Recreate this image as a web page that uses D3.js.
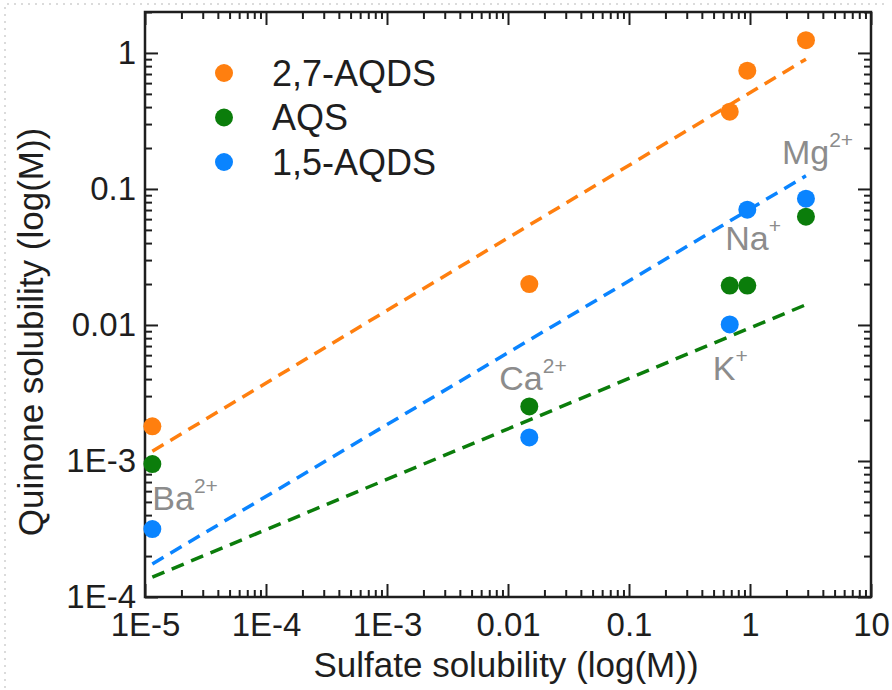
<!DOCTYPE html>
<html>
<head>
<meta charset="utf-8">
<script src="https://cdn.jsdelivr.net/npm/d3@7/dist/d3.min.js"></script>
<style>
  body { margin: 0; background: #fff; }
  svg { display: block; font-family: "Liberation Sans", Arial, sans-serif; }
  .tick text { fill: #1e1e1e; }
</style>
</head>
<body>
<div id="chart"></div>
<script>
// cation sulfates and their solubility (M)
const cations = ['Ba', 'Ca', 'K', 'Na', 'Mg'];
const charges = ['2+', '2+', '+', '+', '2+'];
const sulfateSol = [1.15e-5, 0.015, 0.68, 0.95, 2.9];

// quinone solubility (M) for each cation
const seriesNames = ['2,7-AQDS', 'AQS', '1,5-AQDS'];
const aqds27 = [1.8e-3, 0.02, 0.37, 0.74, 1.24];
const aqs = [9.5e-4, 2.52e-3, 0.0195, 0.0195, 0.0626];
const aqds15 = [3.16e-4, 1.49e-3, 0.0101, 0.0704, 0.0848];

// fitted trend lines (end points)
const fitX = [1.15e-5, 2.9];
const fit27 = [1.18e-3, 0.90];
const fitAqs = [1.40e-4, 0.0141];
const fit15 = [1.75e-4, 0.125];

const xTicks = [1e-5, 1e-4, 1e-3, 0.01, 0.1, 1, 10];
const xTickLabels = ['1E-5', '1E-4', '1E-3', '0.01', '0.1', '1', '10'];
const yTicks = [1e-4, 1e-3, 0.01, 0.1, 1];
const yTickLabels = ['1E-4', '1E-3', '0.01', '0.1', '1'];

const colors = ['#ff7f0f', '#0b7d0b', '#0a84ff'];
const labelColor = '#8c8c8c';

const W = 892, H = 690;
const margin = { top: 12, right: 21, bottom: 93, left: 145 },
      width = W - margin.left - margin.right,
      height = H - margin.top - margin.bottom;

const svg = d3.select('#chart').append('svg')
      .attr('width', W)
      .attr('height', H);

// faint dotted page border (left / top)
svg.append('path')
    .attr('d', 'M5,' + (H - 2) + 'V4H' + (W - 6))
    .attr('fill', 'none')
    .attr('stroke', '#cfcfcf')
    .attr('stroke-width', 1.5)
    .attr('stroke-dasharray', '2,5');

const g = svg.append('g')
    .attr('transform', 'translate(' + margin.left + ',' + margin.top + ')');

const x = d3.scaleLog().domain([1e-5, 10]).range([0, width]);
const y = d3.scaleLog().domain([1e-4, 2]).range([height, 0]);

function minors(lo, hi) {
  const out = [];
  for (let e = lo; e < hi; e++)
    for (let k = 2; k <= 9; k++) out.push(k * Math.pow(10, e));
  return out;
}
const xMinor = minors(-5, 1);
const yMinor = minors(-4, 0).concat([2]);

const fmtX = d => xTickLabels[xTicks.indexOf(d)];
const fmtY = d => yTickLabels[yTicks.indexOf(d)];

function styleAxis(sel) {
  sel.select('.domain').remove();
  sel.selectAll('line').attr('stroke', '#1e1e1e').attr('stroke-width', 2);
  sel.selectAll('text').style('font-size', '33px');
}

// bottom
g.append('g').attr('transform', 'translate(0,' + height + ')')
    .call(d3.axisBottom(x).tickValues(xMinor).tickSize(-7).tickFormat(''))
    .call(styleAxis);
g.append('g').attr('transform', 'translate(0,' + height + ')')
    .call(d3.axisBottom(x).tickValues(xTicks).tickSize(-13).tickPadding(16).tickFormat(fmtX))
    .call(styleAxis);
// top
g.append('g')
    .call(d3.axisTop(x).tickValues(xMinor).tickSize(-7).tickFormat(''))
    .call(styleAxis);
g.append('g')
    .call(d3.axisTop(x).tickValues(xTicks).tickSize(-13).tickFormat(''))
    .call(styleAxis);
// left
g.append('g')
    .call(d3.axisLeft(y).tickValues(yMinor).tickSize(-7).tickFormat(''))
    .call(styleAxis);
g.append('g')
    .call(d3.axisLeft(y).tickValues(yTicks).tickSize(-13).tickPadding(9).tickFormat(fmtY))
    .call(styleAxis);
// right
g.append('g').attr('transform', 'translate(' + width + ',0)')
    .call(d3.axisRight(y).tickValues(yMinor).tickSize(-7).tickFormat(''))
    .call(styleAxis);
g.append('g').attr('transform', 'translate(' + width + ',0)')
    .call(d3.axisRight(y).tickValues(yTicks).tickSize(-13).tickFormat(''))
    .call(styleAxis);

// frame
g.append('rect')
    .attr('width', width)
    .attr('height', height)
    .attr('fill', 'none')
    .attr('stroke', '#1e1e1e')
    .attr('stroke-width', 2.5);

// trend lines
const fits = [fit27, fitAqs, fit15];
const line = d3.line().x(d => x(d[0])).y(d => y(d[1]));
fits.forEach((f, i) => {
  g.append('path')
      .attr('d', line(fitX.map((v, j) => [v, f[j]])))
      .attr('fill', 'none')
      .attr('stroke', colors[i])
      .attr('stroke-width', 3.5)
      .attr('stroke-dasharray', '13,8');
});

// points (blue before green so green sits on top)
const series = [aqds27, aqs, aqds15];
[0, 2, 1].forEach(i => {
  g.append('g').selectAll('circle')
      .data(series[i])
    .enter().append('circle')
      .attr('cx', (d, j) => x(sulfateSol[j]))
      .attr('cy', d => y(d))
      .attr('r', 9)
      .attr('fill', colors[i]);
});

// cation labels
const labelOffsets = [[0, 510], [-30, 390], [-17, 380], [-22, 250], [-24, 164]];
cations.forEach((c, i) => {
  const t = svg.append('text')
      .attr('x', margin.left + x(sulfateSol[i]) + labelOffsets[i][0])
      .attr('y', labelOffsets[i][1])
      .attr('fill', labelColor)
      .style('font-size', '34px')
      .text(c);
  t.append('tspan')
      .attr('dy', -17)
      .style('font-size', '21px')
      .text(charges[i]);
});

// legend
const legend = svg.append('g').attr('transform', 'translate(224,73)');
seriesNames.forEach((n, i) => {
  const row = legend.append('g').attr('transform', 'translate(0,' + (i * 44.5) + ')');
  row.append('circle').attr('r', 9).attr('fill', colors[i]);
  row.append('text')
      .attr('x', 48)
      .attr('y', 12.5)
      .attr('fill', '#1e1e1e')
      .style('font-size', '36px')
      .text(n);
});

// axis titles
svg.append('text')
    .attr('x', margin.left + width / 2 - 2)
    .attr('y', 677)
    .attr('text-anchor', 'middle')
    .attr('fill', '#1e1e1e')
    .style('font-size', '35px')
    .text('Sulfate solubility (log(M))');

svg.append('text')
    .attr('transform', 'translate(43,332) rotate(-90)')
    .attr('text-anchor', 'middle')
    .attr('fill', '#1e1e1e')
    .style('font-size', '35px')
    .text('Quinone solubility (log(M))');
</script>
</body>
</html>
